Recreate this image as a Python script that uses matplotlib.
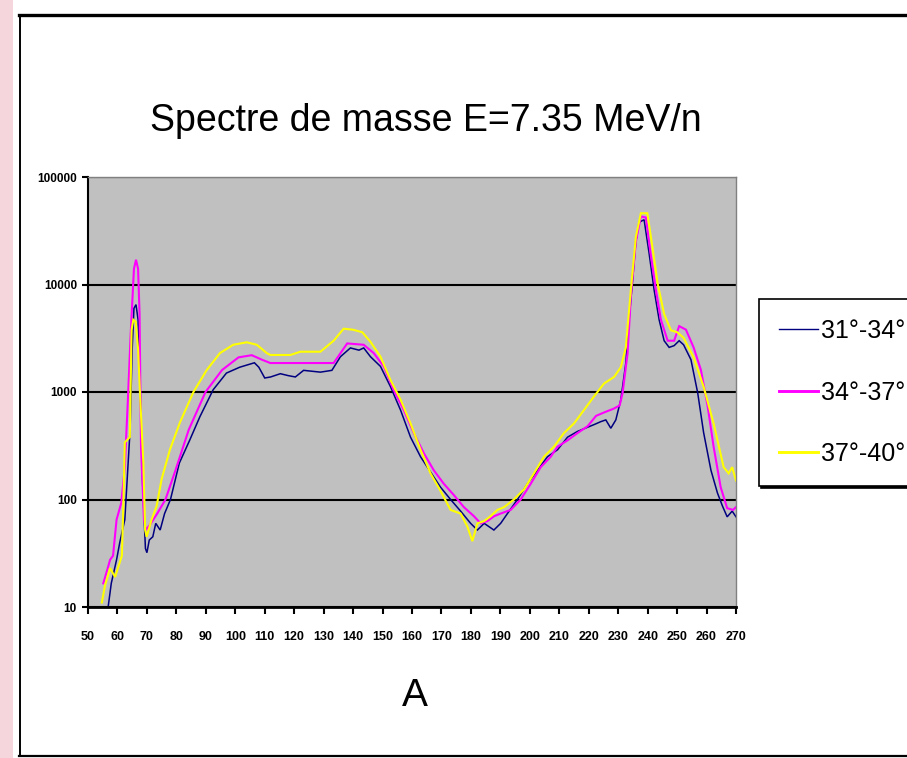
import matplotlib
matplotlib.use("Agg")
import matplotlib.pyplot as plt
from matplotlib.lines import Line2D
from matplotlib.patches import Rectangle
from matplotlib.ticker import FixedLocator, NullLocator, FixedFormatter

# ---------------- data ----------------
title = "Spectre de masse E=7.35 MeV/n"
xlabel = "A"
series_labels = ["31°-34°", "34°-37°", "37°-40°"]
x_ticks = list(range(50, 271, 10))
y_ticks = [10, 100, 1000, 10000, 100000]
y_tick_labels = ["10", "100", "1000", "10000", "100000"]

mass_31 = [56.9, 57.9, 59.7, 60.8, 62.5, 64.3, 65.0, 65.6, 66.3, 67.0, 67.8, 68.5,
           69.5, 70.0, 70.8, 72.0, 73.0, 74.5, 76.0, 78.0, 81.0, 84.5, 88.0, 92.5,
           97.0, 101.5, 106.5, 108.0, 110.0, 112.0, 115.3, 118.0, 120.4, 123.2,
           128.9, 132.8, 135.7, 139.1, 142.0, 143.6, 145.9, 149.3, 152.7, 156.1,
           159.5, 162.9, 166.3, 169.7, 173.1, 176.5, 179.9, 182.2, 184.5, 187.8,
           190.1, 192.4, 195.8, 199.2, 202.6, 206.0, 209.4, 212.8, 216.2, 219.6,
           222.0, 224.1, 225.8, 227.5, 229.2, 230.9, 232.6, 233.7, 234.9, 236.0,
           237.1, 238.8, 240.5, 242.2, 243.9, 245.6, 247.3, 249.0, 250.7, 252.2,
           254.7, 257.0, 259.0, 261.5, 263.7, 265.4, 267.0, 268.7, 270.0]
counts_31 = [10.3, 16.6, 27.5, 40, 65, 450, 2500, 6000, 6500, 4700, 900, 150,
             35, 32, 42, 45, 60, 52, 74, 100, 218, 355, 590, 1050,
             1500, 1700, 1870, 1700, 1350, 1380, 1480, 1420, 1380, 1590,
             1530, 1590, 2130, 2570, 2450, 2570, 2130, 1730, 1120, 680,
             380, 250, 180, 130, 100, 78, 60, 52, 60, 52,
             60, 74, 100, 140, 187, 250, 290, 380, 430, 470,
             500, 530, 550, 460, 550, 850, 1870, 4700, 11000, 25000,
             38000, 40000, 19500, 8900, 4700, 3000, 2600, 2700, 3000, 2750,
             2000, 980, 420, 187, 115, 87, 69, 78, 69]

mass_34 = [55.2, 56.5, 57.5, 58.5, 59.7, 61.3, 62.5, 63.5, 64.5, 65.6, 66.3, 67.0,
           67.5, 68.0, 69.0, 69.6, 71.0, 73.5, 76.3, 79.7, 84.2, 89.9, 95.5, 101.1,
           105.6, 109.0, 111.9, 123.2, 133.4, 138.0, 143.6, 147.0, 150.4, 153.8,
           157.2, 160.6, 164.0, 167.4, 170.8, 174.2, 177.6, 181.0, 183.3, 185.6,
           187.9, 190.1, 193.5, 196.9, 200.3, 203.7, 207.1, 209.4, 212.8, 216.2,
           219.6, 222.5, 225.5, 228.5, 230.5, 231.5, 233.2, 234.3, 236.0, 237.7,
           239.4, 241.0, 242.8, 244.5, 246.8, 249.0, 250.7, 253.0, 255.6, 258.1,
           260.4, 262.4, 264.8, 267.0, 269.0, 270.0]
counts_34 = [16.6, 22, 27.5, 30, 65, 93, 200, 800, 3500, 14000, 17000, 14000,
             5400, 310, 65, 52, 58, 74, 100, 187, 445, 1000, 1600, 2100,
             2200, 2000, 1860, 1860, 1860, 2830, 2750, 2300, 1730, 1040,
             680, 415, 270, 187, 140, 110, 85, 70, 60, 63,
             70, 74, 80, 100, 140, 200, 250, 310, 355, 415,
             480, 600, 650, 700, 750, 980, 2300, 7700, 25000, 43000,
             42000, 19500, 8900, 4700, 3000, 3000, 4100, 3800, 2600, 1600,
             730, 310, 130, 83, 80, 85]

mass_37 = [54.7, 55.8, 57.5, 59.2, 61.5, 62.0, 62.5, 64.2, 64.8, 65.4, 66.2, 67.0,
           67.7, 68.8, 69.4, 69.9, 71.6, 73.3, 75.0, 77.8, 81.2, 85.8, 90.3, 94.8,
           99.3, 103.9, 107.3, 110.7, 111.9, 118.7, 122.1, 128.9, 133.4, 136.8,
           139.9, 143.1, 145.9, 149.3, 152.7, 156.1, 159.5, 162.9, 166.3, 169.7,
           173.1, 176.5, 178.8, 180.5, 182.2, 184.5, 186.7, 189.0, 191.3, 194.6,
           198.0, 201.4, 204.8, 208.2, 211.6, 215.0, 218.4, 221.8, 225.2, 228.6,
           230.9, 232.6, 234.3, 236.0, 237.7, 239.9, 241.6, 243.4, 245.6, 247.9,
           250.0, 252.2, 255.6, 259.0, 262.4, 265.8, 267.5, 268.7, 270.0]
counts_37 = [11, 16, 23, 19, 30, 87, 340, 380, 3800, 4700, 4500, 2500,
             900, 218, 52, 45, 65, 87, 155, 290, 520, 1000, 1600, 2300,
             2750, 2900, 2750, 2300, 2210, 2210, 2370, 2370, 3000, 3880,
             3800, 3600, 2930, 2130, 1290, 850, 510, 290, 175, 120,
             80, 74, 56, 41, 60, 63, 70, 80, 85, 100,
             124, 175, 250, 310, 415, 510, 680, 910, 1200, 1380,
             1700, 2600, 8900, 27700, 46000, 46000, 22500, 10200, 5300, 3750,
             3600, 3200, 2100, 1120, 510, 200, 175, 200, 150]

series = [(mass_31, counts_31, "#000080", 1.1),
          (mass_34, counts_34, "#ff00ff", 1.5),
          (mass_37, counts_37, "#ffff00", 1.5)]

# ---------------- figure ----------------
W, H = 907, 758
fig = plt.figure(figsize=(W / 100, H / 100), dpi=100)
fig.patch.set_facecolor("white")

# pink backdrop strip on the far left
fig.add_artist(Rectangle((0, 0), 13 / W, 1, transform=fig.transFigure,
                         facecolor="#f5d6dd", edgecolor="none", zorder=0))
# chart-area frame
fig.add_artist(Line2D([19 / W, 1], [1 - 15 / H] * 2, transform=fig.transFigure,
                      color="black", lw=2.4))
fig.add_artist(Line2D([19.5 / W] * 2, [1 - 15 / H, 1 - 756 / H], transform=fig.transFigure,
                      color="black", lw=1.4))
fig.add_artist(Line2D([19 / W, 1], [1 - 756 / H] * 2, transform=fig.transFigure,
                      color="black", lw=1.6))

ax = fig.add_axes([88 / W, 1 - 607 / H, (736 - 88) / W, (607 - 177) / H])
ax.set_facecolor("#c0c0c0")

handles = []
for (xs, ys, col, lw), lab in zip(series, series_labels):
    ax.plot(xs, ys, color=col, lw=lw, solid_joinstyle="miter")
    handles.append(Line2D([], [], color=col, lw=lw * 1.4 if col != "#000080" else 1.0, label=lab))

ax.set_yscale("log")
ax.set_xlim(50, 270)
ax.set_ylim(10, 100000)

ax.yaxis.set_major_locator(FixedLocator(y_ticks))
ax.yaxis.set_major_formatter(FixedFormatter(y_tick_labels))
ax.yaxis.set_minor_locator(NullLocator())
ax.xaxis.set_major_locator(FixedLocator(x_ticks))
ax.xaxis.set_minor_locator(NullLocator())
ax.set_xticklabels([str(v) for v in x_ticks])

ax.set_axisbelow(True)
ax.yaxis.grid(True, color="black", lw=1.5)
ax.xaxis.grid(False)

for s in ("top", "right"):
    ax.spines[s].set_color("#808080")
    ax.spines[s].set_linewidth(1.0)
ax.spines["left"].set_color("black")
ax.spines["left"].set_linewidth(1.5)
ax.spines["bottom"].set_color("black")
ax.spines["bottom"].set_linewidth(2.0)

tick_family = ["Liberation Sans Narrow", "Liberation Sans", "DejaVu Sans"]
ax.tick_params(axis="x", direction="out", length=5, width=1.5, pad=12,
               labelsize=9, colors="black")
ax.tick_params(axis="y", direction="out", length=4, width=1.5, pad=4,
               labelsize=8.5, colors="black")
for lab in ax.get_xticklabels() + ax.get_yticklabels():
    lab.set_family(tick_family)
    lab.set_fontweight("bold")

# title and axis title as figure text
fig.text(426 / W, 1 - 131 / H, title, ha="center", va="baseline",
         fontsize=27, family=["Liberation Sans", "DejaVu Sans"], color="black")
fig.text(415 / W, 1 - 706 / H, xlabel, ha="center", va="baseline",
         fontsize=28, family=["Liberation Sans", "DejaVu Sans"], color="black")

leg = ax.legend(handles=handles, loc="upper left",
                bbox_to_anchor=(759 / W, 1 - 299 / H), bbox_transform=fig.transFigure,
                prop=dict(family=["Liberation Sans Narrow", "Liberation Sans", "DejaVu Sans"],
                          size=18),
                frameon=True, fancybox=False, edgecolor="black", facecolor="white",
                framealpha=1, borderpad=0.8, labelspacing=1.5, handlelength=1.55,
                handletextpad=0.15, borderaxespad=0,
                shadow={"color": "black", "alpha": 1, "ox": 1.5, "oy": -1.5})
leg.get_frame().set_linewidth(1.2)

fig.savefig("out.png", dpi=100)
